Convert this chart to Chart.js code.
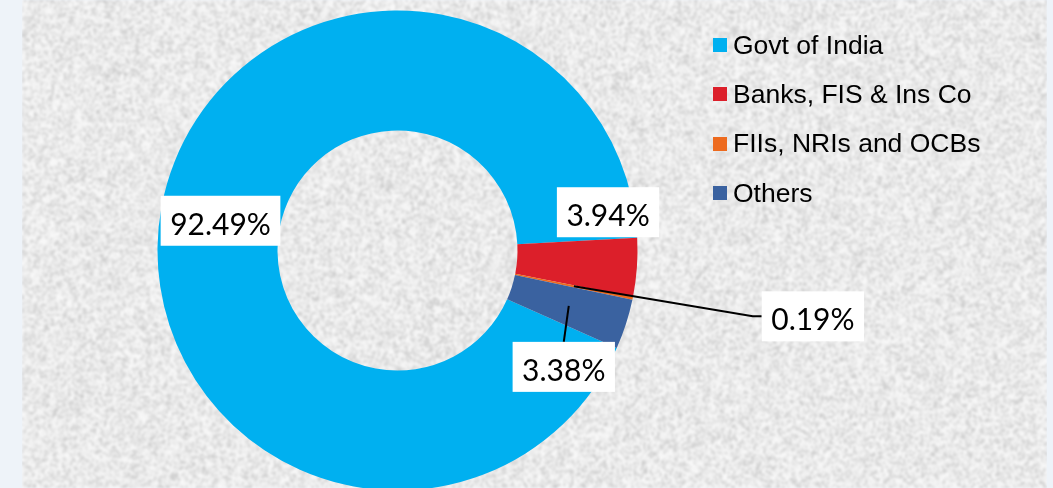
<!DOCTYPE html>
<html>
<head>
<meta charset="utf-8">
<script src="https://cdn.jsdelivr.net/npm/chart.js@4"></script>
<style>
    html, body { margin: 0; padding: 0; }
    body { width: 1053px; height: 488px; background: #eef3f9; position: relative; overflow: hidden; }
    #bg { position: absolute; left: 22px; top: 0; }
    #chart { position: absolute; left: 0; top: 0; }
    #legend { position: absolute; left: 713px; top: 0; font-family: "Liberation Sans", Arial, sans-serif; font-size: 26.5px; color: #000; }
    .item { position: absolute; left: 0; height: 30px; display: flex; align-items: center; white-space: nowrap; }
    .swatch { width: 14px; height: 14px; margin-right: 6px; }
</style>
</head>
<body>
<canvas id="bg" width="1025" height="488"></canvas>
<canvas id="chart" width="1053" height="488"></canvas>
<div id="legend"></div>
<script>
// shareholding pattern, percent
const categories = ['Govt of India', 'Banks, FIS & Ins Co', 'FIIs, NRIs and OCBs', 'Others'];
const shares = [92.49, 3.94, 0.19, 3.38];
const colors = ['#00b0f0', '#dc1f2a', '#ed6a1e', '#3a62a0'];

// label placement relative to each slice's centre point (px), and leader style
const labelOffsets = [[0, 3], [31, -51], [239, 30], [-5, 61]];
const leaderModes = [null, null, 'left', 'top'];

function paintTexture() {
    let bg = document.getElementById('bg');
    let W = bg.width, H = bg.height;
    let small = document.createElement('canvas');
    small.width = Math.ceil(W / 2);
    small.height = Math.ceil(H / 2);
    let sctx = small.getContext('2d');
    let img = sctx.createImageData(small.width, small.height);
    let seed = 4242;
    const rnd = () => (seed = (seed * 16807) % 2147483647) / 2147483647;
    for (let k = 0; k < img.data.length; k += 4) {
        let r = rnd();
        let v = 250 - 50 * r * r;
        img.data[k] = img.data[k + 1] = img.data[k + 2] = v;
        img.data[k + 3] = 255;
    }
    sctx.putImageData(img, 0, 0);
    let bctx = bg.getContext('2d');
    bctx.imageSmoothingEnabled = true;
    bctx.filter = 'blur(0.8px)';
    bctx.drawImage(small, 0, 0, W, H);
}

function buildLegend() {
    let legend = document.getElementById('legend');
    categories.forEach((name, i) => {
        let item = document.createElement('div');
        item.className = 'item';
        item.style.top = (45 + i * 49.4 - 15) + 'px';
        let sw = document.createElement('span');
        sw.className = 'swatch';
        sw.style.background = colors[i];
        let txt = document.createElement('span');
        txt.textContent = name;
        item.appendChild(sw);
        item.appendChild(txt);
        legend.appendChild(item);
    });
}

const sliceLabels = {
    id: 'sliceLabels',
    afterDatasetsDraw(chart) {
        let ctx = chart.ctx;
        let meta = chart.getDatasetMeta(0);
        ctx.save();
        ctx.font = '30px Lato, "Open Sans", sans-serif';
        ctx.textAlign = 'center';
        ctx.textBaseline = 'alphabetic';
        meta.data.forEach((arc, i) => {
            let p = arc.getCenterPoint(true);
            let cx = p.x + labelOffsets[i][0];
            let cy = p.y + labelOffsets[i][1];
            let text = shares[i].toFixed(2) + '%';
            let w = ctx.measureText(text).width + 19;
            let h = 50;

            if (leaderModes[i]) {
                ctx.strokeStyle = '#000';
                ctx.lineWidth = 2;
                ctx.beginPath();
                ctx.moveTo(p.x, p.y);
                if (leaderModes[i] === 'left') {
                    ctx.lineTo(cx - w / 2 - 9, cy);
                    ctx.lineTo(cx - w / 2, cy);
                } else {
                    ctx.lineTo(cx, cy - h / 2);
                }
                ctx.stroke();
            }

            ctx.fillStyle = '#fff';
            ctx.fillRect(cx - w / 2, cy - h / 2, w, h);
            ctx.fillStyle = '#000';
            ctx.fillText(text, cx, cy + h / 2 - 11);
        });
        ctx.restore();
    }
};

paintTexture();
buildLegend();

new Chart(document.getElementById('chart'), {
    type: 'doughnut',
    data: {
        labels: categories,
        datasets: [{
            data: shares,
            backgroundColor: colors,
            borderWidth: 0,
            clip: false
        }]
    },
    options: {
        responsive: false,
        devicePixelRatio: 1,
        animation: false,
        events: [],
        rotation: 114,
        cutout: '50%',
        radius: 240,
        layout: {
            padding: { left: 157, right: 415, top: 13, bottom: 0 }
        },
        plugins: {
            legend: { display: false },
            tooltip: { enabled: false }
        }
    },
    plugins: [sliceLabels]
});
</script>
</body>
</html>
